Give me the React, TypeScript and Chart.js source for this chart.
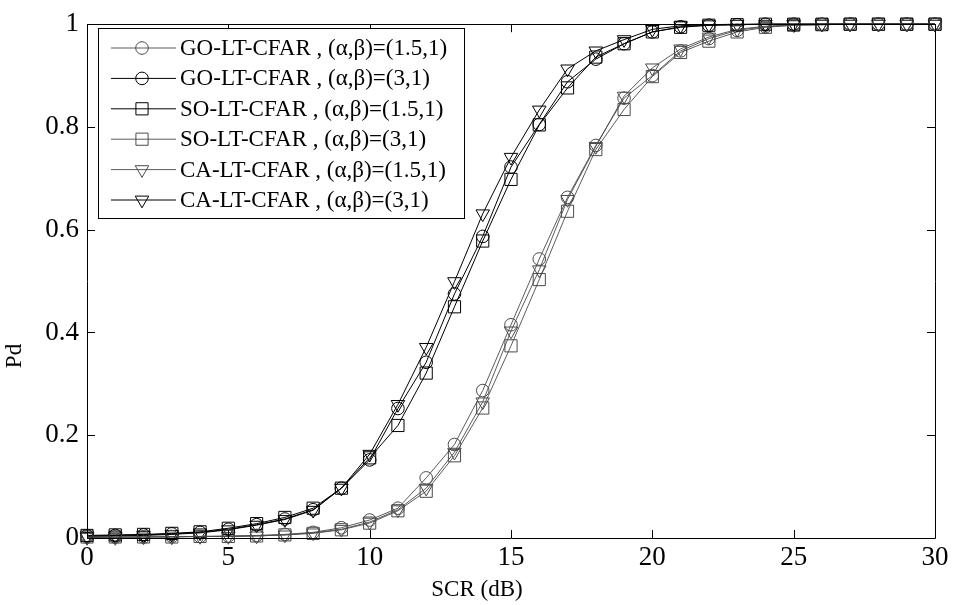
import React, { useEffect, useRef } from 'react';
import { Chart, registerables } from 'chart.js';
import { drawPoint } from 'chart.js/helpers';

Chart.register(...registerables);

const SCR: number[] = [0, 1, 2, 3, 4, 5, 6, 7, 8, 9, 10, 11, 12, 13, 14, 15, 16, 17, 18, 19, 20, 21, 22, 23, 24, 25, 26, 27, 28, 29, 30];

// GO-LT-CFAR (1.5,1)
const GO_15: number[] = [0.002, 0.002, 0.002, 0.003, 0.003, 0.004, 0.005, 0.007, 0.011, 0.020, 0.035, 0.058, 0.117, 0.182, 0.287, 0.415, 0.543, 0.663, 0.764, 0.856, 0.900, 0.948, 0.972, 0.988, 0.995, 0.998, 0.999, 1, 1, 1, 1];
// GO-LT-CFAR (3,1)
const GO_3: number[] = [0.004, 0.005, 0.006, 0.008, 0.011, 0.017, 0.026, 0.037, 0.055, 0.097, 0.152, 0.252, 0.342, 0.475, 0.587, 0.722, 0.805, 0.888, 0.932, 0.962, 0.985, 0.995, 0.998, 0.999, 1, 1, 1, 1, 1, 1, 1];
// SO-LT-CFAR (1.5,1)
const SO_15: number[] = [0.005, 0.006, 0.007, 0.009, 0.012, 0.019, 0.028, 0.040, 0.058, 0.097, 0.156, 0.219, 0.321, 0.450, 0.578, 0.698, 0.804, 0.876, 0.936, 0.962, 0.985, 0.994, 0.998, 0.999, 1, 1, 1, 1, 1, 1, 1];
// SO-LT-CFAR (3,1)
const SO_3: number[] = [0.002, 0.002, 0.002, 0.002, 0.003, 0.003, 0.004, 0.006, 0.009, 0.016, 0.029, 0.053, 0.091, 0.160, 0.253, 0.374, 0.503, 0.636, 0.756, 0.834, 0.898, 0.945, 0.967, 0.985, 0.994, 0.998, 0.999, 1, 1, 1, 1];
// CA-LT-CFAR (1.5,1)
const CA_15: number[] = [0.001, 0.001, 0.002, 0.002, 0.003, 0.003, 0.004, 0.006, 0.010, 0.017, 0.031, 0.055, 0.097, 0.167, 0.265, 0.403, 0.522, 0.659, 0.762, 0.860, 0.915, 0.952, 0.975, 0.990, 0.996, 0.999, 1, 1, 1, 1, 1];
// CA-LT-CFAR (3,1)
const CA_3: number[] = [0.003, 0.004, 0.005, 0.007, 0.010, 0.016, 0.025, 0.036, 0.054, 0.097, 0.163, 0.260, 0.371, 0.499, 0.631, 0.741, 0.833, 0.913, 0.948, 0.970, 0.990, 0.997, 0.999, 1, 1, 1, 1, 1, 1, 1, 1];

const SERIES_LABELS: string[] = [
  'GO-LT-CFAR , (α,β)=(1.5,1)',
  'GO-LT-CFAR , (α,β)=(3,1)',
  'SO-LT-CFAR , (α,β)=(1.5,1)',
  'SO-LT-CFAR , (α,β)=(3,1)',
  'CA-LT-CFAR , (α,β)=(1.5,1)',
  'CA-LT-CFAR , (α,β)=(3,1)',
];

const X_TITLE = 'SCR (dB)';
const Y_TITLE = 'Pd';

const FONT_FAMILY = '"Liberation Serif", "Times New Roman", serif';
const BLACK = '#000000';
const GRAY = '#4a4a4a';

type Marker = { style: string; radius: number; rotation: number };
const CIRCLE: Marker = { style: 'circle', radius: 6.3, rotation: 0 };
const SQUARE: Marker = { style: 'rect', radius: 8.6, rotation: 0 };
const TRIANGLE: Marker = { style: 'triangle', radius: 7.8, rotation: 180 };

const frameLegendPlugin = {
  id: 'frameLegend',
  afterDatasetsDraw(chart: any) {
    const { ctx, chartArea, scales } = chart;
    const { left, right, top, bottom } = chartArea;
    const xs = scales.x;
    const ys = scales.y;
    ctx.save();
    ctx.strokeStyle = BLACK;
    ctx.lineWidth = 1;
    ctx.beginPath();
    ctx.rect(Math.round(left) + 0.5, Math.round(top) + 0.5, Math.round(right - left), Math.round(bottom - top));
    ctx.stroke();
    const tl = 8;
    ctx.beginPath();
    xs.ticks.forEach((t: any) => {
      const px = Math.round(xs.getPixelForValue(t.value)) + 0.5;
      ctx.moveTo(px, bottom);
      ctx.lineTo(px, bottom - tl);
      ctx.moveTo(px, top);
      ctx.lineTo(px, top + tl);
    });
    ys.ticks.forEach((t: any) => {
      const py = Math.round(ys.getPixelForValue(t.value)) + 0.5;
      ctx.moveTo(left, py);
      ctx.lineTo(left + tl, py);
      ctx.moveTo(right, py);
      ctx.lineTo(right - tl, py);
    });
    ctx.stroke();

    // legend
    const lx = 98.5, ly = 28.5, lw = 366, lh = 190;
    ctx.fillStyle = '#ffffff';
    ctx.fillRect(lx, ly, lw, lh);
    ctx.strokeStyle = BLACK;
    ctx.strokeRect(lx, ly, lw, lh);
    ctx.font = `23px ${FONT_FAMILY}`;
    ctx.textBaseline = 'middle';
    ctx.textAlign = 'left';
    chart.data.datasets.forEach((ds: any, i: number) => {
      const cy = 48 + i * 30.4;
      ctx.strokeStyle = ds.borderColor;
      ctx.lineWidth = ds.borderWidth;
      ctx.beginPath();
      ctx.moveTo(111, cy);
      ctx.lineTo(176, cy);
      ctx.stroke();
      ctx.fillStyle = 'rgba(0,0,0,0)';
      ctx.strokeStyle = ds.pointBorderColor;
      ctx.lineWidth = 1;
      drawPoint(ctx, { pointStyle: ds.pointStyle, radius: ds.pointRadius, rotation: ds.pointRotation, borderWidth: 1 } as any, 142, cy);
      ctx.fillStyle = BLACK;
      ctx.fillText(ds.label, 180, cy + 1);
    });

    // axis titles
    ctx.fillStyle = BLACK;
    ctx.font = `23px ${FONT_FAMILY}`;
    ctx.textAlign = 'center';
    ctx.textBaseline = 'middle';
    ctx.fillText(X_TITLE, 477, 590);
    ctx.save();
    ctx.translate(15, 356);
    ctx.rotate(-Math.PI / 2);
    ctx.fillText(Y_TITLE, 0, 0);
    ctx.restore();
    ctx.restore();
  },
};

function makeDataset(label: string, values: number[], color: string, marker: Marker, width: number) {
  return {
    label,
    data: SCR.map((x, i) => ({ x, y: values[i] })),
    borderColor: color,
    borderWidth: width,
    backgroundColor: 'rgba(0,0,0,0)',
    pointStyle: marker.style,
    pointRadius: marker.radius,
    pointRotation: marker.rotation,
    pointBorderColor: color,
    pointBackgroundColor: 'rgba(0,0,0,0)',
    pointBorderWidth: 1,
    pointHoverRadius: marker.radius,
    tension: 0,
    fill: false,
    clip: false as any,
  };
}

export default function App() {
  const canvasRef = useRef<HTMLCanvasElement | null>(null);

  useEffect(() => {
    const canvas = canvasRef.current;
    if (!canvas) return;
    const chart = new Chart(canvas, {
      type: 'line',
      data: {
        datasets: [
          makeDataset(SERIES_LABELS[0], GO_15, GRAY, CIRCLE, 0.9),
          makeDataset(SERIES_LABELS[1], GO_3, BLACK, CIRCLE, 1),
          makeDataset(SERIES_LABELS[2], SO_15, BLACK, SQUARE, 1),
          makeDataset(SERIES_LABELS[3], SO_3, GRAY, SQUARE, 0.9),
          makeDataset(SERIES_LABELS[4], CA_15, GRAY, TRIANGLE, 0.9),
          makeDataset(SERIES_LABELS[5], CA_3, BLACK, TRIANGLE, 1),
        ] as any,
      },
      options: {
        animation: false,
        responsive: false,
        devicePixelRatio: 1,
        layout: { padding: { top: 18, right: 18, left: 0, bottom: 0 } },
        plugins: {
          legend: { display: false },
          tooltip: { enabled: false },
          title: { display: false },
        },
        scales: {
          x: {
            type: 'linear',
            min: 0,
            max: 30,
            grid: { display: false, drawTicks: false },
            border: { display: false },
            ticks: {
              stepSize: 5,
              padding: 4,
              color: BLACK,
              font: { family: FONT_FAMILY, size: 27 },
              maxRotation: 0,
            },
            afterFit: (s: any) => {
              s.height = 67;
            },
          },
          y: {
            type: 'linear',
            min: 0,
            max: 1,
            grid: { display: false, drawTicks: false },
            border: { display: false },
            ticks: {
              stepSize: 0.2,
              padding: 8,
              color: BLACK,
              font: { family: FONT_FAMILY, size: 27 },
              callback: (v: any) => {
                const n = Number(v);
                if (Math.abs(n) < 1e-9) return '0';
                if (Math.abs(n - 1) < 1e-9) return '1';
                return n.toFixed(1);
              },
            },
            afterFit: (s: any) => {
              s.width = 87;
            },
          },
        },
      },
      plugins: [frameLegendPlugin],
    });
    return () => chart.destroy();
  }, []);

  return (
    <canvas
      ref={canvasRef}
      width={953}
      height={605}
      style={{ position: 'absolute', left: 0, top: 0, width: 953, height: 605, display: 'block', background: '#ffffff' }}
    />
  );
}
